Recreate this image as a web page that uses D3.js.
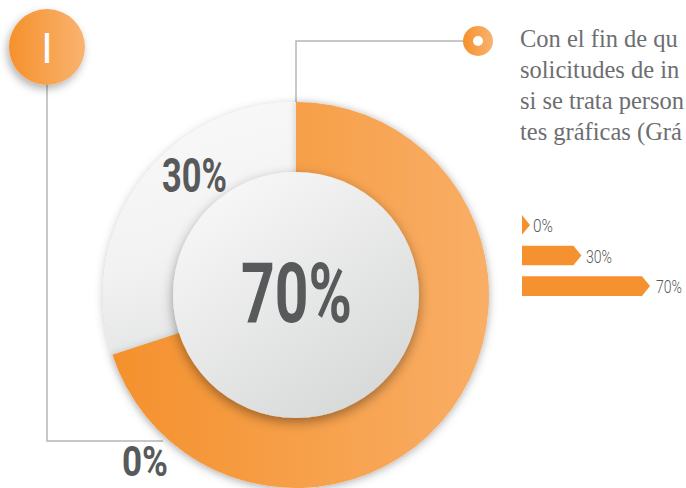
<!DOCTYPE html>
<html lang="es">
<head>
<meta charset="utf-8">
<title>Gráfica 70% / 30%</title>
<script src="https://cdn.jsdelivr.net/npm/d3@7/dist/d3.min.js"></script>
<style>
  html, body { margin: 0; padding: 0; background: #ffffff; overflow: hidden; }
  svg { display: block; }
</style>
</head>
<body>
<svg id="chart" width="686" height="488"></svg>
<script>
// ---- data ----
const categories = ["Sí", "Parcial", "No"];
const shares = [70, 0, 30];               // donut slices, clockwise from 12 o'clock
const shareLabels = ["70%", "0%", "30%"];
const legendCategories = ["0%", "30%", "70%"];
const legendValues = [0, 30, 70];
const paragraph = [
  "Con el fin de qu",
  "solicitudes de in",
  "si se trata person",
  "tes gráficas (Grá"
];
const badgeText = "I";

// ---- setup ----
const W = 686, H = 488;
const svg = d3.select("#chart");
const defs = svg.append("defs");

const orange = "#f5922f";
const ink = "#58595b";

function hGrad(id, c0, c1) {
  const g = defs.append("linearGradient").attr("id", id)
    .attr("x1", "0").attr("y1", "0").attr("x2", "1").attr("y2", "0");
  g.append("stop").attr("offset", "0").attr("stop-color", c0);
  g.append("stop").attr("offset", "1").attr("stop-color", c1);
  return g;
}
hGrad("orangeGrad", "#f4902b", "#f9ae66");
hGrad("badgeGrad", "#f5912c", "#f9b371");

const greyGrad = defs.append("linearGradient").attr("id", "greyGrad")
  .attr("x1", "0.3").attr("y1", "0").attr("x2", "0.5").attr("y2", "1");
greyGrad.append("stop").attr("offset", "0").attr("stop-color", "#f9f9f9");
greyGrad.append("stop").attr("offset", "0.6").attr("stop-color", "#f2f2f2");
greyGrad.append("stop").attr("offset", "1").attr("stop-color", "#e3e4e4");

const discGrad = defs.append("linearGradient").attr("id", "discGrad")
  .attr("x1", "0.15").attr("y1", "0.05").attr("x2", "0.8").attr("y2", "1");
discGrad.append("stop").attr("offset", "0").attr("stop-color", "#f8f8f8");
discGrad.append("stop").attr("offset", "1").attr("stop-color", "#d6d7d7");

function shadow(id, dx, dy, sd, op) {
  defs.append("filter").attr("id", id)
    .attr("x", "-30%").attr("y", "-30%").attr("width", "160%").attr("height", "160%")
    .append("feDropShadow")
    .attr("dx", dx).attr("dy", dy).attr("stdDeviation", sd)
    .attr("flood-color", "#000").attr("flood-opacity", op);
}
shadow("ringShadow", 0, 2, 5, 0.22);
shadow("discShadow", 0, 4, 6, 0.38);
shadow("badgeShadow", -2, 4, 4, 0.3);
shadow("sliceShadow", -1, 0, 3, 0.15);

// ---- leader lines ----
const cx = 296, cy = 295, rOuter = 193, rInner = 110, rDisc = 123;
const lines = svg.append("g").attr("fill", "none")
  .attr("stroke", "#b5b6b7").attr("stroke-width", 1.5);
lines.append("path").attr("d", d3.line()([[47, 80], [47, 441], [163, 441]]));
lines.append("path").attr("d", d3.line()([[cx, cy - rOuter + 2], [cx, 41], [466, 41]]));

// ---- donut ----
const pie = d3.pie().sort(null).value(d => d.value).startAngle(0).endAngle(2 * Math.PI);
const arcs = pie(categories.map((c, i) => ({ cat: c, value: shares[i], label: shareLabels[i] })));
const arc = d3.arc().innerRadius(rInner).outerRadius(rOuter);
const fills = ["url(#orangeGrad)", "url(#orangeGrad)", "url(#greyGrad)"];

// the horizontal orange gradient spans the full ring width
defs.select("#orangeGrad").attr("gradientUnits", "userSpaceOnUse")
  .attr("x1", -rOuter).attr("x2", rOuter).attr("y1", 0).attr("y2", 0);

const donut = svg.append("g").attr("transform", `translate(${cx},${cy})`);
// grey slice underneath, orange slice on top
const order = [2, 1, 0];
const sliceGroup = donut.append("g").attr("filter", "url(#ringShadow)");
order.forEach(i => {
  const a = arcs[i];
  if (a.endAngle - a.startAngle <= 0) return;
  sliceGroup.append("path")
    .attr("d", arc(a))
    .attr("fill", fills[i])
    .attr("filter", i === 0 ? "url(#sliceShadow)" : null);
});

// centre disc
donut.append("circle").attr("r", rDisc)
  .attr("fill", "url(#discGrad)").attr("filter", "url(#discShadow)");

// ---- condensed text: the glyphs are squeezed horizontally to a set width ----
const bigFont = "Roboto, 'DejaVu Sans', sans-serif";
function condensed(parent, x, y, text, size, width, weight) {
  const g = parent.append("g");
  const t = g.append("text")
    .attr("font-family", bigFont)
    .attr("font-weight", weight)
    .attr("font-size", size)
    .attr("fill", ink)
    .text(text);
  const natural = t.node().getComputedTextLength();
  g.attr("transform", `translate(${x},${y}) scale(${width / natural},1)`);
  return g;
}

// ---- value labels ----
condensed(svg, 241, 322, arcs[0].data.label, 83, 111, 700);
condensed(svg, 162, 192, arcs[2].data.label, 49, 65, 700);
condensed(svg, 122, 476, arcs[1].data.label, 43, 46, 700);

// ---- badge ----
const badge = svg.append("g").attr("transform", "translate(47,47)");
badge.append("circle").attr("r", 38).attr("fill", "url(#badgeGrad)")
  .attr("filter", "url(#badgeShadow)");
badge.append("text").attr("x", 0).attr("y", 16)
  .attr("text-anchor", "middle")
  .attr("font-family", bigFont).attr("font-weight", 400)
  .attr("font-size", 42).attr("fill", "#ffffff")
  .text(badgeText);

// ---- top marker ----
const marker = svg.append("g").attr("transform", "translate(478,41)");
marker.append("circle").attr("r", 15).attr("fill", "url(#badgeGrad)");
marker.append("circle").attr("r", 5).attr("fill", "#ffffff");

// ---- paragraph (sized so every line stays inside the page) ----
const para = svg.append("g")
  .attr("font-family", "'Liberation Serif', 'Times New Roman', serif")
  .attr("fill", "#6d6e71");
const paraX = 520, paraMax = W - paraX - 2;
let paraSize = 25.5;
const paraText = para.selectAll("text").data(paragraph).join("text")
  .attr("x", paraX).attr("y", (d, i) => 47 + i * 31)
  .attr("font-size", paraSize)
  .text(d => d);
const widest = d3.max(paraText.nodes(), n => n.getComputedTextLength());
if (widest > paraMax) {
  paraSize = paraSize * paraMax / widest;
  paraText.attr("font-size", paraSize);
}

// ---- legend bars ----
const x = d3.scaleLinear().domain([0, 70]).range([0, 120]);
const y = d3.scaleBand().domain(legendCategories).range([209, 302]).paddingInner(0.36).paddingOuter(0.2);
const x0 = 522, tip = 8;
const legend = svg.append("g");
legendCategories.forEach((c, i) => {
  const v = legendValues[i];
  const top = y(c), h = y.bandwidth(), w = x(v);
  const mid = top + h / 2;
  legend.append("path")
    .attr("d", d3.line()([[x0, top], [x0 + w, top], [x0 + w + tip, mid], [x0 + w, top + h], [x0, top + h]]) + "Z")
    .attr("fill", orange);
  condensed(legend, x0 + w + tip + 3 + i * 1.5, mid + 7, c, 19, c.length === 2 ? 20 : 26, 300);
});
</script>
</body>
</html>
